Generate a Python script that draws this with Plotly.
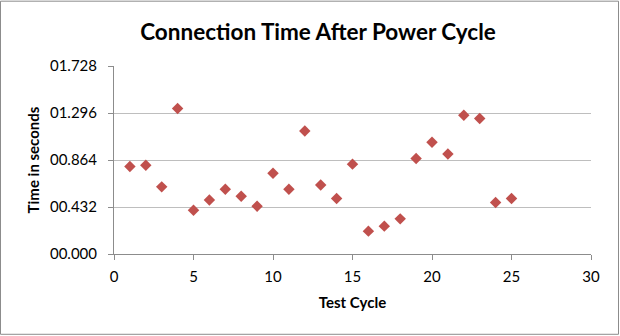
import plotly.graph_objects as go

test_cycle = list(range(1, 26))
time_seconds = [0.804, 0.816, 0.617, 1.337, 0.402, 0.497, 0.595, 0.531, 0.439, 0.742,
                0.595, 1.131, 0.635, 0.510, 0.826, 0.210, 0.256, 0.323, 0.878, 1.028,
                0.920, 1.276, 1.245, 0.473, 0.510]
y_ticks = [0.0, 0.432, 0.864, 1.296, 1.728]

W, H = 620, 336
ml, mr, mt, mb = 114, 29, 65.5, 82

fig = go.Figure()
fig.add_trace(go.Scatter(
    x=test_cycle, y=time_seconds, mode="markers",
    marker=dict(symbol="diamond", size=8.8, color="#C0504D",
                line=dict(width=0)),
    showlegend=False, cliponaxis=False,
))

font = "Lato, 'Open Sans', sans-serif"
fig.update_layout(
    width=W, height=H,
    margin=dict(l=ml, r=mr, t=mt, b=mb, pad=0),
    paper_bgcolor="white", plot_bgcolor="white",
    font=dict(family=font, size=15, color="#000000"),
    title=dict(text="<b>Connection Time After Power Cycle</b>",
               x=318 / W, xanchor="center", y=1 - 32 / H, yanchor="middle",
               font=dict(family=font, size=22.5, color="#000000")),
    xaxis=dict(range=[0, 30], dtick=5, tick0=0, showgrid=False, zeroline=False,
               showline=True, linecolor="#8C8C8C", linewidth=1,
               ticks="outside", ticklen=5, tickcolor="#8C8C8C",
               tickfont=dict(size=15), ticklabelstandoff=4,
               title=dict(text="<b>Test Cycle</b>", font=dict(size=15), standoff=13)),
    yaxis=dict(range=[0, 1.728], tickvals=y_ticks, tickformat="06.3f",
               showgrid=True, gridcolor="#BEBEBE", gridwidth=1.2, zeroline=False,
               showline=True, linecolor="#8C8C8C", linewidth=1,
               ticks="outside", ticklen=5, tickcolor="#8C8C8C",
               tickfont=dict(size=15), ticklabelstandoff=8,
               title=dict(text="<b>Time in seconds</b>", font=dict(size=15), standoff=6)),
    shapes=[dict(type="rect", xref="paper", yref="paper",
                 x0=(0.5 - ml) / (W - ml - mr), x1=(W - 1.5 - ml) / (W - ml - mr),
                 y0=-(mb - 1.5) / (H - mt - mb), y1=1 + (mt - 0.5) / (H - mt - mb),
                 line=dict(color="#8C8C8C", width=1), layer="below")],
)

fig.write_html("out.html")
